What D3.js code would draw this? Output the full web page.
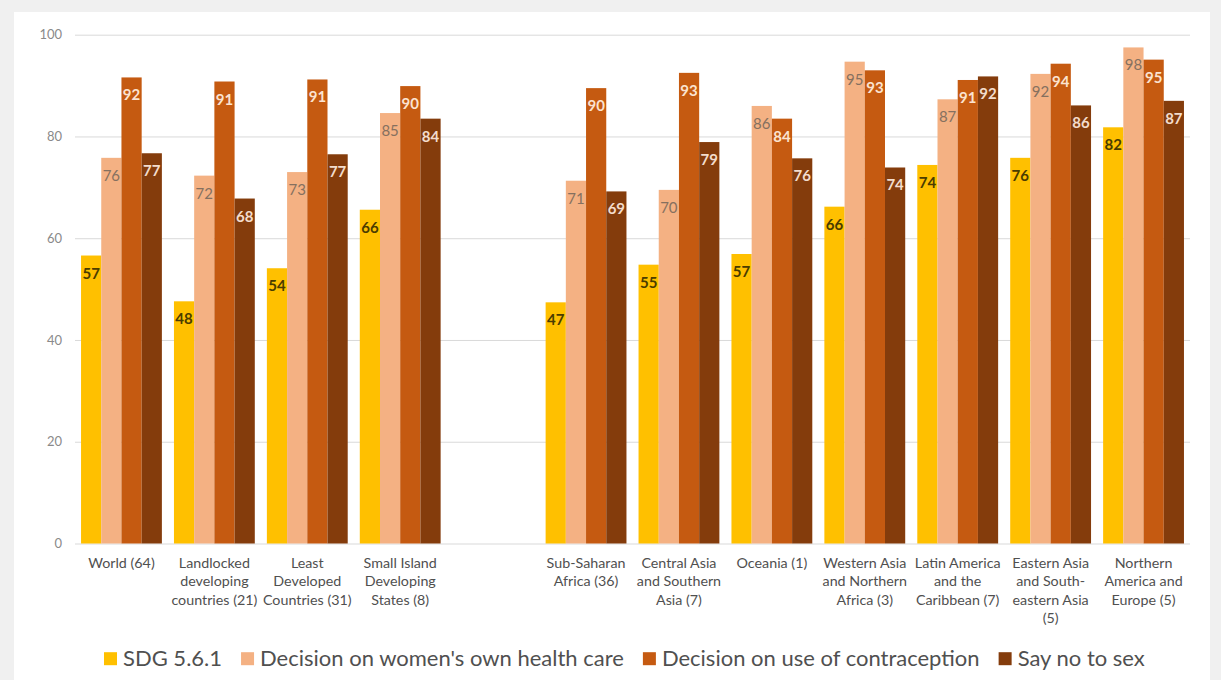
<!DOCTYPE html>
<html>
<head>
<meta charset="utf-8">
<script src="https://cdn.jsdelivr.net/npm/d3@7"></script>
<style>
  html, body { margin: 0; padding: 0; background: #f0f0f0; }
  svg { display: block; }
  text { font-family: Lato, "Open Sans", "Noto Sans", sans-serif; }
</style>
</head>
<body>
<svg id="chart" width="1221" height="680"></svg>
<script>
// ---- Data ----
const categories = [
  "World (64)",
  "Landlocked\ndeveloping\ncountries (21)",
  "Least\nDeveloped\nCountries (31)",
  "Small Island\nDeveloping\nStates (8)",
  "",
  "Sub-Saharan\nAfrica (36)",
  "Central Asia\nand Southern\nAsia (7)",
  "Oceania (1)",
  "Western Asia\nand Northern\nAfrica (3)",
  "Latin America\nand the\nCaribbean (7)",
  "Eastern Asia\nand South-\neastern Asia\n(5)",
  "Northern\nAmerica and\nEurope (5)"
];
const seriesNames = ["SDG 5.6.1", "Decision on women's own health care", "Decision on use of contraception", "Say no to sex"];
const sdg561   = [56.6, 47.6, 54.1, 65.6, null, 47.4, 54.8, 56.9, 66.2, 74.4, 75.8, 81.8];
const health   = [75.8, 72.3, 73.0, 84.6, null, 71.3, 69.5, 86.0, 94.7, 87.3, 92.3, 97.5];
const contra   = [91.6, 90.8, 91.2, 89.9, null, 89.5, 92.5, 83.5, 93.0, 91.1, 94.3, 95.1];
const sayNo    = [76.7, 67.8, 76.5, 83.5, null, 69.2, 78.9, 75.7, 73.9, 91.8, 86.1, 87.0];
const yTicks   = [0, 20, 40, 60, 80, 100];

// ---- Styles ----
const colors = ["#FFC000", "#F4B183", "#C55A11", "#843C0C"];
const labelColors = ["#4a3c00", "#85705f", "#fbe3d0", "#f3dccd"];
const labelWeights = [700, 400, 700, 700];
const seriesValues = [sdg561, health, contra, sayNo];

const svg = d3.select("#chart");
// white panel
svg.append("rect").attr("x", 14).attr("y", 12).attr("width", 1196).attr("height", 668).attr("fill", "#ffffff");

const x = d3.scaleBand()
  .domain(categories.map((c, i) => i))
  .range([75, 1190])
  .paddingInner(0.13)
  .paddingOuter(0.065);
const xs = d3.scaleBand().domain(d3.range(seriesNames.length)).range([0, x.bandwidth()]);
const y = d3.scaleLinear().domain([0, 100]).range([543.5, 34.7]);

// gridlines + tick labels via axis
const yAxis = d3.axisLeft(y).tickValues(yTicks).tickSize(-(1190 - 75)).tickPadding(13);
const gy = svg.append("g").attr("transform", "translate(75,0)").call(yAxis);
gy.select(".domain").remove();
gy.selectAll(".tick line").attr("stroke", "#d9d9d9").attr("stroke-width", 1);
gy.selectAll(".tick text").attr("fill", "#8a8a8a").style("font-size", "13px")
  .style("font-family", "Lato, 'Open Sans', sans-serif");

// bars
const groups = svg.append("g").selectAll("g.cat")
  .data(categories.map((c, i) => i).filter(i => categories[i] !== ""))
  .join("g").attr("class", "cat")
  .attr("transform", i => `translate(${x(i)},0)`);

seriesValues.forEach((vals, s) => {
  groups.append("rect")
    .attr("x", xs(s))
    .attr("width", xs.bandwidth())
    .attr("y", i => y(vals[i]))
    .attr("height", i => y(0) - y(vals[i]))
    .attr("fill", colors[s]);
});
seriesValues.forEach((vals, s) => {
  groups.append("text")
    .attr("x", xs(s) + xs.bandwidth() / 2)
    .attr("y", i => y(vals[i]) + 23)
    .attr("text-anchor", "middle")
    .attr("fill", labelColors[s])
    .style("font-size", "15px")
    .style("font-weight", labelWeights[s])
    .text(i => Math.round(vals[i]));
});

// x-axis category labels
const xl = svg.append("g");
const catFont = 13;
categories.forEach((c, i) => {
  if (!c) return;
  const t = xl.append("text")
    .attr("text-anchor", "middle")
    .attr("fill", "#505050")
    .style("font-size", catFont + "px");
  c.split("\n").forEach((line, k) => {
    t.append("tspan").attr("x", x(i) + x.bandwidth() / 2).attr("y", 568 + k * 18.4).text(line);
  });
});
// fit category font size so "countries (21)" is ~86px wide
(function fitCats(){
  const probe = svg.append("text").style("font-size", catFont + "px").text("countries (21)");
  const w = probe.node().getComputedTextLength();
  probe.remove();
  const fs = catFont * 86 / w;
  xl.selectAll("text").style("font-size", fs.toFixed(2) + "px");
})();

// legend
const legend = svg.append("g");
let legFont = 19;
{
  const probe = svg.append("text").style("font-size", legFont + "px").text(seriesNames[1]);
  const w = probe.node().getComputedTextLength();
  probe.remove();
  legFont = legFont * 364 / w;
}
let lx = 104;
const baseY = 665.7;
seriesNames.forEach((name, s) => {
  legend.append("rect").attr("x", lx).attr("y", baseY - 13.5).attr("width", 13).attr("height", 13).attr("fill", colors[s]);
  const t = legend.append("text").attr("x", lx + 19).attr("y", baseY)
    .attr("fill", "#505050").style("font-size", legFont.toFixed(2) + "px").text(name);
  lx = lx + 19 + t.node().getComputedTextLength() + 19;
});
</script>
</body>
</html>
